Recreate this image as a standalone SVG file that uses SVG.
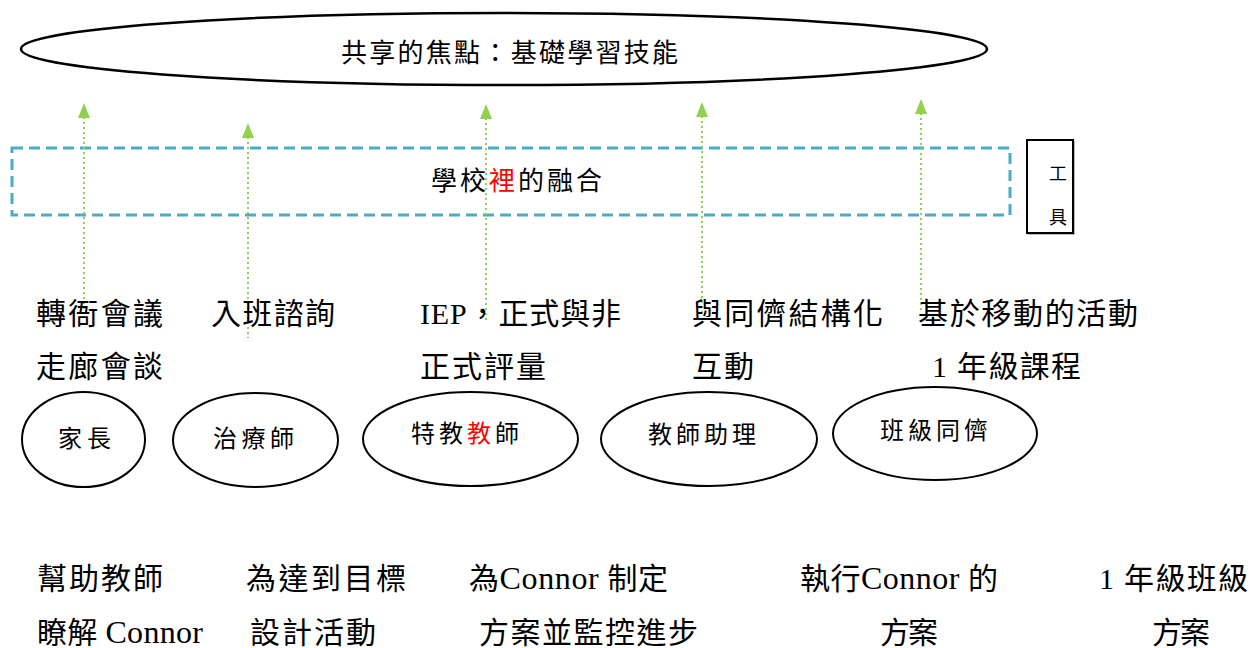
<svg xmlns="http://www.w3.org/2000/svg" width="1258" height="648" viewBox="0 0 1258 648">
<style>
text{font-family:"Liberation Serif","Noto Sans CJK TC",serif;fill:#000}
.big{font-size:30px}
.lat{font-size:32px}
.mid{font-size:26px}
.node{font-size:24px}
.sm{font-size:18px}
.red{fill:#ff0000}
.ell{fill:#fff;stroke:#000;stroke-width:2}
.conn{stroke:#92d050;stroke-width:2;stroke-dasharray:2 3;fill:none}
.head{fill:#92d050}
</style>
<rect width="1258" height="648" fill="#fff"/>

<g id="focus">
<ellipse cx="504" cy="49" rx="483" ry="36" fill="none" stroke="#000" stroke-width="2.5"/>
<text class="mid" x="341" y="62" textLength="337" lengthAdjust="spacing">共享的焦點：基礎學習技能</text>
</g>

<g id="school">
<rect x="12" y="148" width="998" height="67" fill="none" stroke="#4bacc6" stroke-width="3" stroke-dasharray="11 6"/>
<text class="mid" x="431" y="190" textLength="171" lengthAdjust="spacing">學校<tspan class="red">裡</tspan>的融合</text>
</g>

<g id="tools">
<rect x="1028.5" y="141.5" width="46" height="93" fill="none" stroke="#bbb" stroke-width="1"/>
<rect x="1027" y="140" width="46" height="93" fill="#fff" stroke="#000" stroke-width="2"/>
<text class="sm" x="1058" y="180" text-anchor="middle">工</text>
<text class="sm" x="1058" y="224" text-anchor="middle">具</text>
</g>

<g id="connectors">
<line class="conn" x1="84" y1="117" x2="84" y2="309"/>
<polygon class="head" points="84,103 78,118 90,118"/>
<line class="conn" x1="248" y1="137" x2="248" y2="338"/>
<polygon class="head" points="248,123 242,138 254,138"/>
<line class="conn" x1="486" y1="118" x2="486" y2="320"/>
<polygon class="head" points="486,104 480,119 492,119"/>
<line class="conn" x1="702" y1="116" x2="702" y2="313"/>
<polygon class="head" points="702,102 696,117 708,117"/>
<line class="conn" x1="921" y1="113" x2="921" y2="311"/>
<polygon class="head" points="921,99 915,114 927,114"/>
</g>

<g id="labels-top">
<text class="big" x="36" y="324" textLength="127" lengthAdjust="spacing">轉衙會議</text>
<text class="big" x="36" y="377" textLength="127" lengthAdjust="spacing">走廊會談</text>
<text class="big" x="211" y="324" textLength="124" lengthAdjust="spacing">入班諮詢</text>
<text class="big" x="420" y="324" textLength="201" lengthAdjust="spacing">IEP，正式與非</text>
<text class="big" x="420" y="377" textLength="126" lengthAdjust="spacing">正式評量</text>
<text class="big" x="692" y="324" textLength="191" lengthAdjust="spacing">與同儕結構化</text>
<text class="big" x="692" y="377" textLength="62" lengthAdjust="spacing">互動</text>
<text class="big" x="918" y="324" textLength="220" lengthAdjust="spacing">基於移動的活動</text>
<text class="big" x="932" y="377" textLength="149" lengthAdjust="spacing">1 年級課程</text>
</g>

<g id="parent">
<ellipse class="ell" cx="83.5" cy="439.5" rx="61.5" ry="47.5"/>
<text class="node" x="58" y="447" textLength="53" lengthAdjust="spacing">家長</text>
</g>
<g id="therapist">
<ellipse class="ell" cx="255.5" cy="440" rx="82.5" ry="47"/>
<text class="node" x="213" y="447" textLength="81" lengthAdjust="spacing">治療師</text>
</g>
<g id="special-teacher">
<ellipse class="ell" cx="470.5" cy="439" rx="107.5" ry="47"/>
<text class="node" x="411" y="442" textLength="108" lengthAdjust="spacing">特教<tspan class="red">教</tspan>師</text>
</g>
<g id="assistant">
<ellipse class="ell" cx="709" cy="439" rx="108" ry="47"/>
<text class="node" x="648" y="443" textLength="108" lengthAdjust="spacing">教師助理</text>
</g>
<g id="peers">
<ellipse class="ell" cx="935" cy="433.5" rx="102" ry="46.5"/>
<text class="node" x="880" y="439" textLength="108" lengthAdjust="spacing">班級同儕</text>
</g>

<g id="labels-bottom">
<text class="big" x="37" y="589" textLength="126" lengthAdjust="spacing">幫助教師</text>
<text class="big" x="37" y="643" textLength="166" lengthAdjust="spacing">瞭解 <tspan class="lat">Connor</tspan></text>
<text class="big" x="246" y="589" textLength="160" lengthAdjust="spacing">為達到目標</text>
<text class="big" x="250" y="643" textLength="126" lengthAdjust="spacing">設計活動</text>
<text class="big" x="469" y="589" textLength="199" lengthAdjust="spacing">為<tspan class="lat">Connor</tspan> 制定</text>
<text class="big" x="479" y="643" textLength="219" lengthAdjust="spacing">方案並監控進步</text>
<text class="big" x="800" y="589" textLength="198" lengthAdjust="spacing">執行<tspan class="lat">Connor</tspan> 的</text>
<text class="big" x="880" y="643" textLength="58" lengthAdjust="spacing">方案</text>
<text class="big" x="1099" y="589" textLength="149" lengthAdjust="spacing">1 年級班級</text>
<text class="big" x="1152" y="643" textLength="58" lengthAdjust="spacing">方案</text>
</g>
</svg>
